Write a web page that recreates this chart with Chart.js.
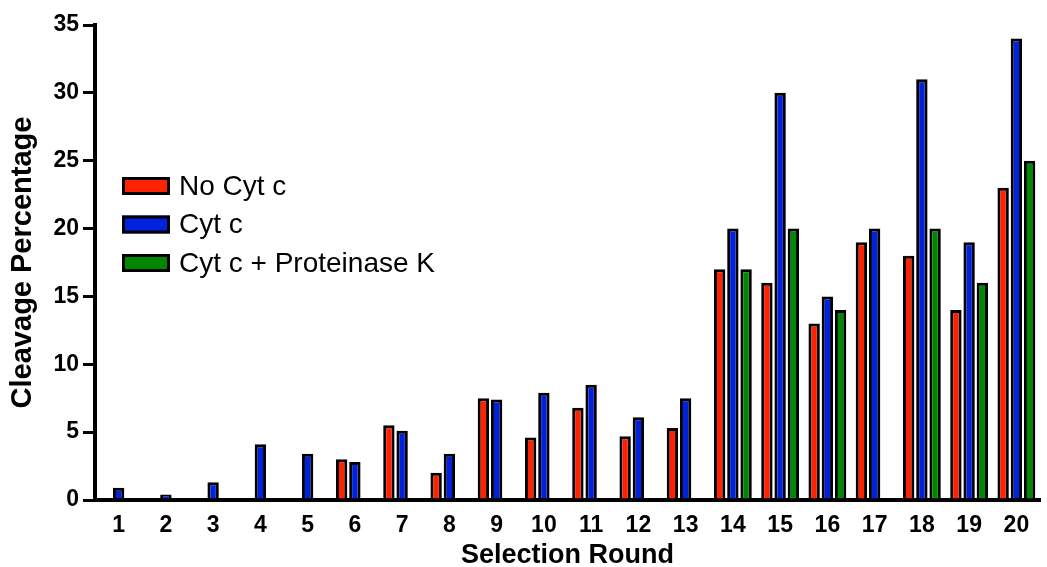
<!DOCTYPE html>
<html><head><meta charset="utf-8">
<script src="https://cdn.jsdelivr.net/npm/chart.js@4/dist/chart.umd.min.js"></script>
<style>html,body{margin:0;padding:0;background:#fff}#wrap{width:1047px;height:567px;position:relative}canvas{display:block}</style>
</head><body><div id="wrap"><canvas id="c" width="1047" height="567"></canvas></div>
<script>
const rounds = ['1','2','3','4','5','6','7','8','9','10','11','12','13','14','15','16','17','18','19','20'];
const noCytC = [null,null,null,null,null,3.0,5.5,2.0,7.5,4.6,6.8,4.7,5.3,17,16,13,19,18,14,23];
const cytC = [0.9,0.4,1.3,4.1,3.4,2.8,5.1,3.4,7.4,7.9,8.5,6.1,7.5,20,30,15,20,31,19,34];
const cytCProtK = [null,null,null,null,null,null,null,null,null,null,null,null,null,17,20,14,null,20,16,25];
const seriesNames = ['No Cyt c','Cyt c','Cyt c + Proteinase K'];
const seriesColors = ['#ff2200','#0022dd','#008800'];
const yTicks = [0,5,10,15,20,25,30,35];

const FONT = "'Liberation Sans', Arial, Helvetica, sans-serif";

const legendPlugin = {
  id: 'insideLegend',
  afterDraw(chart) {
    const ctx = chart.ctx;
    const left = chart.chartArea.left;
    const rows = [186, 224.5, 263];
    ctx.save();
    chart.data.datasets.forEach((ds, i) => {
      const x = left + 27, y = rows[i] - 9;
      ctx.fillStyle = ds.backgroundColor;
      ctx.fillRect(x, y, 48, 18);
      ctx.lineWidth = 3;
      ctx.strokeStyle = '#000';
      ctx.strokeRect(x + 1.5, y + 1.5, 45, 15);
      ctx.fillStyle = '#000';
      ctx.font = '28px ' + FONT;
      ctx.textBaseline = 'middle';
      ctx.textAlign = 'left';
      ctx.fillText(ds.label, left + 84, rows[i] + 1);
    });
    ctx.restore();
  }
};

new Chart(document.getElementById('c'), {
  type: 'bar',
  data: {
    labels: rounds,
    datasets: [
      { label: seriesNames[0], data: noCytC, backgroundColor: seriesColors[0] },
      { label: seriesNames[1], data: cytC, backgroundColor: seriesColors[1] },
      { label: seriesNames[2], data: cytCProtK, backgroundColor: seriesColors[2] }
    ].map(d => Object.assign(d, { borderColor: '#000', borderWidth: 3, categoryPercentage: 0.84, barPercentage: 0.86 }))
  },
  options: {
    responsive: false,
    animation: false,
    devicePixelRatio: 1,
    layout: { padding: { top: 25, right: 7, left: 0, bottom: 0 } },
    plugins: { legend: { display: false }, tooltip: { enabled: false } },
    scales: {
      x: {
        type: 'category',
        offset: true,
        grid: { display: false },
        border: { display: true, color: '#000', width: 4 },
        ticks: { color: '#000', font: { family: FONT, size: 23, weight: 'bold' }, padding: 4, maxRotation: 0, autoSkip: false },
        title: { display: true, text: 'Selection Round', color: '#000', font: { family: FONT, size: 27, weight: 'bold' }, padding: { top: 0, bottom: -5 } },
        afterFit(s) { s.height = 67; }
      },
      y: {
        min: 0, max: 35,
        afterBuildTicks(s) { s.ticks = yTicks.map(v => ({ value: v })); },
        grid: { display: true, drawOnChartArea: false, drawTicks: true, tickLength: 12, color: '#000', lineWidth: 3 },
        border: { display: true, color: '#000', width: 4 },
        ticks: { color: '#000', font: { family: FONT, size: 23, weight: 'bold' }, padding: 4 },
        title: { display: true, text: 'Cleavage Percentage', color: '#000', font: { family: FONT, size: 29, weight: 'bold' }, padding: { top: 6, bottom: 0 } },
        afterFit(s) { s.width = 95; }
      }
    }
  },
  plugins: [legendPlugin]
});
</script></body></html>
